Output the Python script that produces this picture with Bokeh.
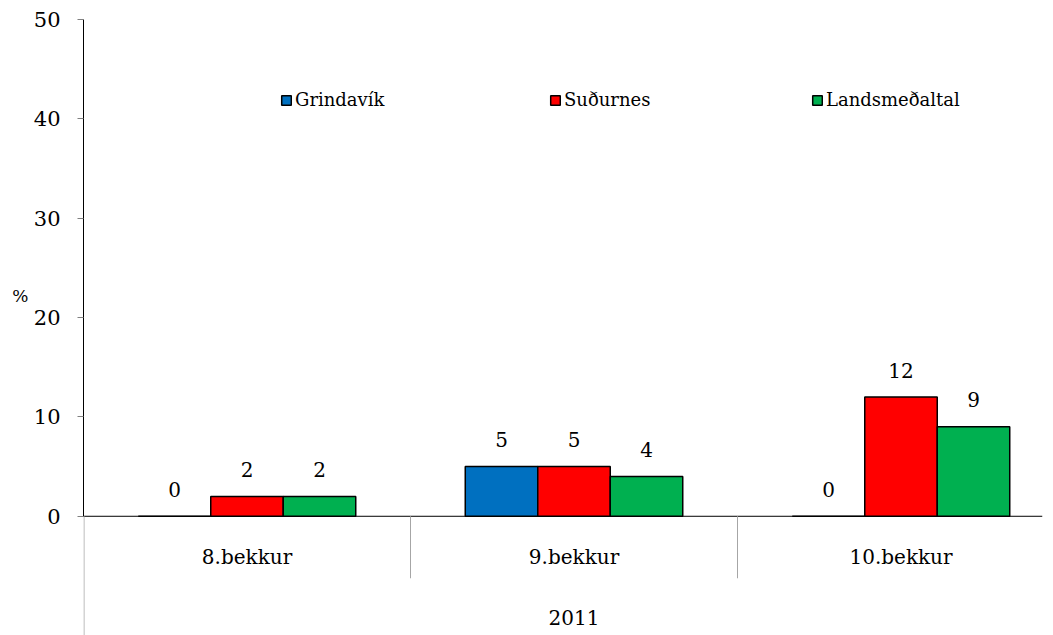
import numpy as np
from bokeh.plotting import figure
from bokeh.models import ColumnDataSource, FixedTicker, Legend, LegendItem, Range1d, LinearAxis
from bokeh.core.properties import value
from bokeh.embed import file_html
from bokeh.resources import INLINE

# ---- data ----
categories = ["8.bekkur", "9.bekkur", "10.bekkur"]
series_names = ["Grindavík", "Suðurnes", "Landsmeðaltal"]
grindavik = [0, 5, 0]
sudurnes = [2, 5, 12]
landsmedaltal = [2, 4, 9]
y_ticks = [0, 10, 20, 30, 40, 50]
year_label = "2011"
y_label = "%"

colors = ["#0070C0", "#FF0000", "#00B050"]
FONT = "DejaVu Serif"
BAR_W = 0.2217
X_END = 959 / 327
Y_MIN = -12.0

p = figure(width=1053, height=635, x_range=Range1d(0, X_END), y_range=Range1d(Y_MIN, 50),
           output_backend="svg", toolbar_location=None, x_axis_location=None,
           min_border_left=83, min_border_right=11, min_border_top=19, min_border_bottom=0)
p.outline_line_color = None
p.grid.grid_line_color = None
p.background_fill_color = "white"

ya = p.yaxis[0]
ya.ticker = FixedTicker(ticks=y_ticks)
ya.bounds = (0, 50)
ya.axis_line_color = "black"
ya.major_tick_line_color = "#808080"
ya.major_tick_out = 6
ya.major_tick_in = 0
ya.minor_tick_line_color = None
ya.major_label_text_font = FONT
ya.major_label_text_font_size = "21px"
ya.major_label_text_color = "black"
ya.major_label_standoff = 17

# secondary axis carrying only the horizontal "%" label (raised with blank lines)
pa = LinearAxis(ticker=FixedTicker(ticks=[]), axis_line_color=None,
                major_tick_line_color=None, minor_tick_line_color=None,
                major_label_text_font_size="0px", axis_label=y_label + "\n \n \n ",
                axis_label_orientation="horizontal", axis_label_standoff=2,
                axis_label_text_font=FONT, axis_label_text_font_size="17px",
                axis_label_text_line_height=1.05,
                axis_label_text_font_style="normal", axis_label_text_color="black")
p.add_layout(pa, "left")

# axis line at zero and category separators
p.segment(x0=[0], y0=[0], x1=[X_END], y1=[0], line_color="black", line_width=1)
p.segment(x0=[1, 2], y0=[0, 0], x1=[1, 2], y1=[-6.24, -6.24], line_color="#A6A6A6", line_width=1)
p.segment(x0=[0.0015], y0=[0], x1=[0.0015], y1=[Y_MIN], line_color="#A6A6A6", line_width=1)

series = [grindavik, sudurnes, landsmedaltal]
offsets = [-BAR_W, 0, BAR_W]
renderers = []
for name, vals, col, off in zip(series_names, series, colors, offsets):
    xs = [i + 0.5 + off for i in range(len(categories))]
    src = ColumnDataSource(dict(x=xs, top=vals, label=[str(v) for v in vals]))
    r = p.vbar(x="x", top="top", bottom=0, width=BAR_W, fill_color=col,
               line_color="black", line_width=1.5, source=src)
    renderers.append(r)
    p.text(x="x", y="top", text="label", source=src, text_align="center",
           text_baseline="alphabetic", y_offset=-27, text_font=value(FONT),
           text_font_size="20px", text_color="black")

p.text(x=[i + 0.5 for i in range(len(categories))], y=[-4.13] * len(categories), text=categories,
       text_align="center", text_baseline="alphabetic", text_font=value(FONT),
       text_font_size="20px", text_color="black")
p.text(x=[len(categories) / 2], y=[-10.2], text=[year_label], text_align="center",
       text_baseline="alphabetic", text_font=value(FONT), text_font_size="20px", text_color="black")

leg_x = [197, 466, 728]
for name, r, lx in zip(series_names, renderers, leg_x):
    leg = Legend(items=[LegendItem(label=name, renderers=[r])], location=(lx, 525),
                 orientation="horizontal", border_line_color=None, background_fill_alpha=0,
                 padding=0, margin=0, glyph_width=12, glyph_height=12, label_standoff=3,
                 label_text_font=FONT, label_text_font_size="18px", label_height=20,
                 label_text_color="black")
    p.add_layout(leg, "center")

open("out.html", "w").write(file_html(p, INLINE))
